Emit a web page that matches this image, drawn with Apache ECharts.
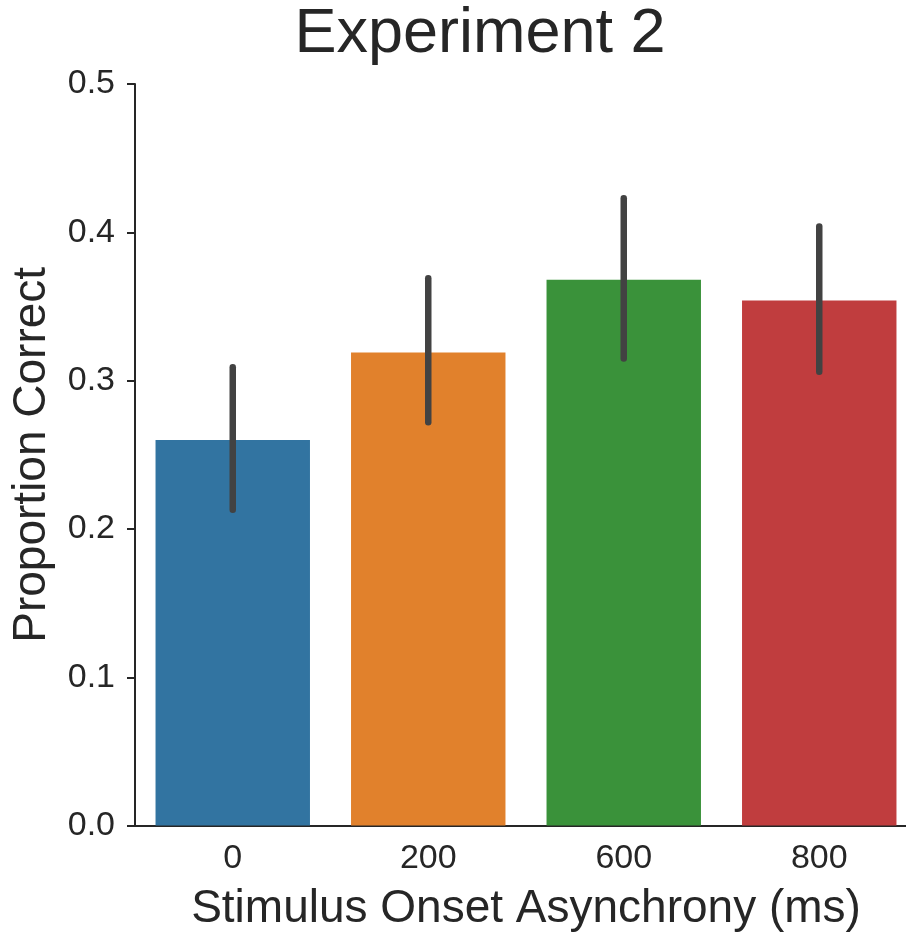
<!DOCTYPE html>
<html>
<head>
<meta charset="utf-8">
<script src="https://cdn.jsdelivr.net/npm/echarts@6/dist/echarts.min.js"></script>
<style>
  html, body { margin: 0; padding: 0; background: #fff; }
  #chart { width: 906px; height: 934px; }
</style>
</head>
<body>
<div id="chart"></div>
<script>
// data
const categories = ["0", "200", "600", "800"];
const means = [0.260, 0.319, 0.368, 0.354];
const ciLow = [0.213, 0.272, 0.315, 0.306];
const ciHigh = [0.309, 0.369, 0.423, 0.404];
const barColors = ["#3274a1", "#e1812c", "#3a923a", "#c03d3e"];
const yTicks = [0, 0.1, 0.2, 0.3, 0.4, 0.5];

const textColor = "#262626";
const font = "Liberation Sans, Arial, sans-serif";

const chart = echarts.init(document.getElementById("chart"));

const option = {
  backgroundColor: "#fff",
  animation: false,
  grid: {
    left: 135,
    top: 84,
    width: 782,
    height: 741.6,
    containLabel: false,
    outerBoundsMode: "none"
  },
  graphic: [
    {
      type: "text",
      x: 480,
      y: 35,
      style: {
        text: "Experiment 2",
        font: "63px " + font,
        fill: textColor,
        textAlign: "center",
        textVerticalAlign: "middle"
      }
    }
  ],
  xAxis: {
    type: "category",
    data: categories,
    name: "Stimulus Onset Asynchrony (ms)",
    nameLocation: "middle",
    nameGap: 61,
    nameMoveOverlap: false,
    nameTextStyle: {
      fontSize: 46,
      fontFamily: font,
      color: textColor
    },
    axisLine: {
      show: true,
      lineStyle: { color: textColor, width: 2 }
    },
    axisTick: { show: false },
    axisLabel: {
      fontSize: 34,
      lineHeight: 34,
      fontFamily: font,
      color: textColor,
      margin: 16
    },
    splitLine: { show: false }
  },
  yAxis: {
    type: "value",
    min: yTicks[0],
    max: yTicks[yTicks.length - 1],
    interval: 0.1,
    name: "Proportion Correct",
    nameLocation: "middle",
    nameRotate: 90,
    nameGap: 80,
    nameMoveOverlap: false,
    nameTextStyle: {
      fontSize: 46,
      fontFamily: font,
      color: textColor
    },
    axisLine: {
      show: true,
      lineStyle: { color: textColor, width: 2 }
    },
    axisTick: {
      show: true,
      length: 8,
      lineStyle: { color: textColor, width: 2 }
    },
    axisLabel: {
      fontSize: 34,
      fontFamily: font,
      color: textColor,
      margin: 20,
      formatter: function (v) { return v.toFixed(1); }
    },
    splitLine: { show: false }
  },
  series: [
    {
      type: "bar",
      barWidth: "79%",
      data: means.map(function (v, i) {
        return { value: v, itemStyle: { color: barColors[i] } };
      }),
      z: 2
    },
    {
      type: "custom",
      data: categories.map(function (c, i) { return [i, ciLow[i], ciHigh[i]]; }),
      renderItem: function (params, api) {
        const lo = api.coord([api.value(0), api.value(1)]);
        const hi = api.coord([api.value(0), api.value(2)]);
        return {
          type: "line",
          shape: { x1: lo[0], y1: lo[1], x2: hi[0], y2: hi[1] },
          style: { stroke: "#424242", lineWidth: 6.5, lineCap: "round" }
        };
      },
      z: 5
    }
  ]
};

chart.setOption(option);
</script>
</body>
</html>
